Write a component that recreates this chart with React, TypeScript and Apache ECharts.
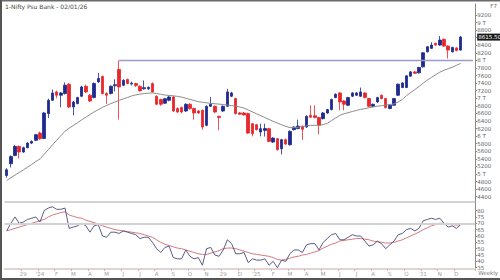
import React, { useEffect, useRef } from "react";
import * as echarts from "echarts";

const weekCount = 113;
const firstWeek = Date.UTC(2023, 11, 1);
const categories: string[] = Array.from({ length: weekCount }, (_, i) =>
  new Date(firstWeek + i * 7 * 86400000).toISOString().slice(0, 10)
);

const tickWeeks = [4, 8, 12, 16, 20, 24, 28, 32, 36, 40, 44, 48, 52, 56, 60, 64, 68, 72, 76, 80, 84, 88, 92, 96, 100, 104, 108];
const tickLabels = ["29", "'24", "F", "M", "A", "M", "J", "J", "A", "S", "O", "N", "29", "D", "'25", "F", "M", "A", "M", "J", "J", "A", "S", "O", "31", "N", "D"];

const priceTicks = [4400, 4600, 4800, 5000, 5200, 5400, 5600, 5800, 6000, 6200, 6400, 6600, 6800, 7000, 7200, 7400, 7600, 7800, 8000, 8200, 8400, 8600, 8800, 9000, 9200];
const rsiTicks = [35, 40, 45, 50, 55, 60, 65, 70, 75, 80];

const opens = [
  4960, 5270, 5490, 5730, 5580, 5694, 5816, 5888, 6081, 5940,
  6595, 6947, 7168, 7080, 7125, 7372, 6770, 6860, 7054, 7318,
  7080, 7019, 7433, 7575, 7125, 7125, 7330, 7761, 7345, 7495,
  7380, 7390, 7318, 7250, 7250, 7390, 7054, 6965, 6870, 6947,
  7034, 6728, 6754, 6664, 6842, 6728, 6664, 6683, 6285, 6788,
  6788, 6523, 6664, 6788, 7054, 6992, 6612, 6612, 6595, 6330,
  6303, 6109, 6150, 6197, 5843, 5933, 5667, 5906, 5773, 6171,
  6200, 6260, 6240, 6550, 6540, 6489, 6462, 6611, 6701, 7019,
  7141, 6929, 6815, 7054, 7080, 7054, 7141, 6992, 6788, 6903,
  7080, 6992, 6728, 6815, 7080, 7284, 7284, 7584, 7697, 7671,
  7830, 8227, 8318, 8450, 8405, 8556, 8379, 8227, 8330, 8273,
];
const closes = [
  5110, 5460, 5730, 5580, 5694, 5816, 5860, 6038, 5933, 6611,
  6947, 7141, 7080, 7140, 7345, 6770, 6903, 7019, 7300, 7168,
  6929, 7390, 7522, 7125, 7080, 7318, 7360, 7300, 7477, 7390,
  7400, 7340, 7195, 7280, 7290, 7168, 6842, 6842, 6990, 7034,
  6664, 6637, 6637, 6842, 6728, 6612, 6612, 6240, 6788, 6842,
  6637, 6489, 6788, 7168, 7141, 6595, 6580, 6560, 6081, 6065,
  6171, 6197, 6200, 5861, 5949, 5641, 5906, 5790, 6126, 6240,
  6266, 6180, 6523, 6500, 6490, 6285, 6611, 6701, 6966, 7106,
  6903, 6842, 7019, 7141, 7141, 7168, 7019, 6788, 6842, 7019,
  6992, 6754, 6815, 6992, 7372, 7406, 7593, 7697, 7660, 7814,
  8201, 8360, 8405, 8405, 8537, 8379, 8273, 8344, 8260, 8615.5,
];
const lows = [
  4900, 5170, 5470, 5410, 5560, 5680, 5790, 5870, 5900, 5920,
  6480, 6930, 7000, 6760, 7100, 6740, 6550, 6840, 7030, 7140,
  6900, 7000, 7410, 7100, 6850, 7100, 7180, 6436, 7320, 7370,
  7340, 7300, 7180, 7230, 7220, 7150, 6820, 6800, 6850, 6920,
  6640, 6610, 6600, 6640, 6700, 6436, 6590, 6171, 6260, 6770,
  6610, 6153, 6640, 6770, 7030, 6570, 6560, 6540, 6060, 5994,
  6150, 5994, 5990, 5840, 5820, 5620, 5517, 5770, 5750, 6150,
  6180, 5900, 6220, 6480, 6470, 6047, 6440, 6590, 6680, 7000,
  6683, 6683, 6790, 7030, 7060, 7030, 7000, 6770, 6770, 6880,
  6970, 6730, 6710, 6800, 7060, 7270, 7270, 7570, 7640, 7650,
  7810, 8210, 8300, 8390, 8390, 8360, 8052, 8210, 8240, 8260,
];
const highs = [
  5150, 5490, 5760, 5750, 5720, 5840, 5890, 6060, 6120, 6640,
  6990, 7230, 7200, 7170, 7420, 7400, 6930, 7040, 7330, 7360,
  7110, 7420, 7671, 7600, 7160, 7340, 7500, 8000, 7500, 7520,
  7440, 7410, 7340, 7470, 7310, 7420, 7080, 6990, 7010, 7060,
  7060, 6760, 6780, 6870, 6870, 6750, 6690, 6700, 6810, 7034,
  6810, 6540, 6810, 7250, 7170, 7010, 6640, 6640, 6620, 6350,
  6320, 6330, 6330, 6220, 5970, 5950, 5930, 5930, 6150, 6260,
  6436, 6280, 6550, 6815, 6815, 6510, 6640, 6720, 6990, 7130,
  7160, 6950, 7040, 7160, 7160, 7282, 7160, 7010, 6860, 7040,
  7100, 7010, 6840, 7010, 7390, 7420, 7610, 7720, 7720, 7830,
  8220, 8380, 8480, 8470, 8643, 8580, 8400, 8360, 8350, 8650,
];
const priceMA = [
  4830, 4900, 4970, 5040, 5110, 5180, 5250, 5330, 5400, 5520,
  5640, 5770, 5890, 6010, 6130, 6210, 6280, 6350, 6430, 6500,
  6570, 6640, 6700, 6760, 6810, 6860, 6900, 6945, 6985, 7020,
  7060, 7090, 7110, 7125, 7135, 7140, 7125, 7105, 7085, 7075,
  7065, 7050, 7030, 7000, 6970, 6940, 6910, 6895, 6880, 6865,
  6855, 6845, 6835, 6820, 6805, 6790, 6770, 6740, 6690, 6640,
  6590, 6540, 6490, 6440, 6390, 6345, 6300, 6260, 6225, 6225,
  6235, 6250, 6270, 6285, 6285, 6285, 6305, 6340, 6410, 6480,
  6550, 6590, 6620, 6650, 6680, 6705, 6725, 6750, 6770, 6790,
  6805, 6820, 6835, 6850, 6900, 6970, 7070, 7150, 7230, 7310,
  7400, 7480, 7550, 7620, 7690, 7740, 7780, 7820, 7870, 7920,
];
const rsi = [
  64, 70, 75, 70, 71, 73, 74, 75, 71, 80,
  82, 83, 81, 81, 82, 66, 67, 68, 70, 68,
  63, 68, 69, 60, 59, 63, 63, 62, 64, 63,
  62, 61, 58, 59, 59, 55, 50, 47, 51, 52,
  43, 42, 42, 49, 44, 42, 43, 37, 50, 51,
  45, 44, 49, 57, 54, 46, 46, 47, 39, 42,
  41, 41, 42, 37, 40, 35, 41, 40, 46, 49,
  49, 47, 53, 54, 54, 49, 55, 58, 61, 62,
  57, 57, 59, 61, 60, 60, 56, 52, 53, 56,
  54, 50, 53, 56, 61, 62, 65, 66, 64, 66,
  72, 73, 74, 73, 74, 70, 67, 68, 66, 69,
];
const rsiMA = [
  64, 65, 66, 67, 68, 69, 70, 71, 72, 73,
  75, 76.5, 77.5, 78.5, 79, 76.5, 75.5, 74.5, 74, 72.5,
  71.5, 70.5, 69.5, 68, 67, 66, 65, 64.5, 64, 63.5,
  63, 62.5, 62, 61, 60, 59, 57, 55, 53.5, 52.5,
  51.5, 50.5, 50, 49, 48, 47, 46, 45.5, 45.5, 46.5,
  47.5, 48.5, 50, 50.5, 50.5, 50, 49, 48, 47, 46,
  45.5, 45, 44.5, 44, 43, 41.5, 41, 41.5, 42.5, 43.5,
  44, 45, 45.5, 46.5, 47.5, 48.5, 50.5, 52, 53.5, 54.5,
  56, 56.5, 57, 57.5, 58, 58, 57.5, 57, 56, 55.5,
  55, 54.5, 54.5, 55, 56, 57, 58.5, 60, 61.5, 63,
  65, 66.5, 68, 69, 70, 70, 69.5, 69, 68.5, 69,
];

const resistanceLevel = 8000;
const resistanceFrom = 27;
const lastPrice = 8615.5;

const FONT = "DejaVu Sans";

export default function App() {
  const ref = useRef<HTMLDivElement>(null);
  useEffect(() => {
    if (!ref.current) return;
    const chart = echarts.init(ref.current, undefined, { renderer: "svg" });
    const candles = opens.map((o, i) => [o, closes[i], lows[i], highs[i]]);
    const isTick = (i: number) => tickWeeks.indexOf(i) >= 0;
    // the last-price box covers the tick label nearest to it
    const priceLabelValues = priceTicks.filter((v) => Math.abs(v - lastPrice) > 100);
    const gridL = 4.6;
    const gridR = 24.8;
    chart.setOption({
      animation: false,
      backgroundColor: "#ffffff",
      textStyle: { fontFamily: FONT },
      grid: [
        { left: gridL, right: gridR, top: 4, height: 197.7 },
        { left: gridL, right: gridR, top: 201.7, height: 67.3 },
      ],
      xAxis: [
        {
          type: "category",
          gridIndex: 0,
          data: categories,
          boundaryGap: true,
          axisLine: { show: false },
          axisTick: { show: false },
          axisLabel: { show: false },
          splitLine: { show: false },
        },
        {
          type: "category",
          gridIndex: 1,
          data: categories,
          boundaryGap: true,
          axisLine: { show: true, lineStyle: { color: "#e3d3d3", width: 2 } },
          axisTick: {
            show: true,
            length: 2,
            interval: (i: number) => isTick(i),
            lineStyle: { color: "#bbbbbb" },
          },
          axisLabel: {
            show: true,
            interval: (i: number) => isTick(i),
            formatter: (_v: string, i: number) => {
              const k = tickWeeks.indexOf(i);
              return k >= 0 ? tickLabels[k] : "";
            },
            fontSize: 5.5,
            color: "#a0a0a0",
            margin: 2,
            fontFamily: FONT,
          },
          splitLine: { show: false },
        },
      ],
      yAxis: [
        {
          type: "value",
          gridIndex: 0,
          position: "right",
          min: 4268,
          max: 9490,
          splitLine: { show: false },
          axisLine: { show: true, lineStyle: { color: "#8a8a8a" } },
          axisTick: { show: true, length: 2, customValues: priceTicks, lineStyle: { color: "#8a8a8a" } },
          axisLabel: {
            customValues: priceLabelValues,
            formatter: (v: number) => (v % 1000 === 0 ? `${v / 1000} T` : `${v}`),
            fontSize: 5.5,
            color: "#666666",
            margin: 2,
            fontFamily: FONT,
          },
        },
        {
          type: "value",
          gridIndex: 1,
          position: "right",
          min: 34,
          max: 87,
          splitLine: { show: false },
          axisLine: { show: true, lineStyle: { color: "#8a8a8a" } },
          axisTick: { show: true, length: 2, customValues: rsiTicks, lineStyle: { color: "#8a8a8a" } },
          axisLabel: {
            customValues: rsiTicks,
            fontSize: 5.5,
            color: "#666666",
            margin: 2,
            fontFamily: FONT,
          },
        },
      ],
      series: [
        {
          type: "candlestick",
          xAxisIndex: 0,
          yAxisIndex: 0,
          data: candles,
          barWidth: 3,
          itemStyle: {
            color: "#1e2a8e",
            color0: "#e8262b",
            borderColor: "#1e2a8e",
            borderColor0: "#e8262b",
            borderWidth: 0.8,
          },
          markLine: {
            silent: true,
            symbol: ["none", "none"],
            data: [
              [
                { coord: [categories[resistanceFrom], resistanceLevel] },
                { coord: [categories[weekCount - 1], resistanceLevel] },
              ],
              {
                yAxis: lastPrice,
                lineStyle: { color: "rgba(255,255,255,0)", width: 0, opacity: 1 },
                label: {
                  show: true,
                  position: "end",
                  distance: 2,
                  formatter: "8615.50",
                  backgroundColor: "#1a1a1a",
                  color: "#ffffff",
                  fontSize: 5.5,
                  padding: [1, 1, 0, 1],
                  fontFamily: FONT,
                },
              },
            ],
            lineStyle: { color: "#9a9acc", width: 1.3, type: "solid" },
            label: { show: false },
          },
        },
        {
          type: "line",
          xAxisIndex: 0,
          yAxisIndex: 0,
          data: priceMA,
          symbol: "none",
          lineStyle: { color: "#8c8c8c", width: 1 },
        },
        {
          type: "line",
          xAxisIndex: 1,
          yAxisIndex: 1,
          data: rsiMA,
          symbol: "none",
          lineStyle: { color: "#d47a7f", width: 1 },
          markLine: {
            silent: true,
            symbol: ["none", "none"],
            label: { show: false },
            lineStyle: { color: "#d2d2d2", width: 2, type: "solid" },
            data: [{ yAxis: 87 }, { yAxis: 70 }],
          },
        },
        {
          type: "line",
          xAxisIndex: 1,
          yAxisIndex: 1,
          data: rsi,
          symbol: "none",
          lineStyle: { color: "#474a7a", width: 0.9 },
        },
      ],
      graphic: [
        { type: "rect", left: 0, top: 0, shape: { width: 500, height: 1.5 }, style: { fill: "#6a6a6a" } },
        { type: "rect", left: 0, top: 0, shape: { width: 2, height: 280 }, style: { fill: "#555555" } },
        { type: "rect", left: 0, top: 278, shape: { width: 500, height: 2 }, style: { fill: "#555555" } },
        {
          type: "text",
          left: 5,
          top: 3,
          style: { text: "1-Nifty Psu Bank - 02/01/26", fontSize: 6, fill: "#444444", fontFamily: FONT },
        },
        {
          type: "text",
          right: 3,
          top: 3,
          style: { text: "F7", fontSize: 5.5, fill: "#666666", fontFamily: FONT },
        },
        {
          type: "text",
          right: 2,
          top: 270,
          style: { text: "Weekly", fontSize: 5.5, fill: "#777777", fontFamily: FONT },
        },
      ],
    });
    return () => chart.dispose();
  }, []);
  return (
    <div
      ref={ref}
      style={{ position: "fixed", left: 0, top: 0, width: 500, height: 280, background: "#fff" }}
    />
  );
}
